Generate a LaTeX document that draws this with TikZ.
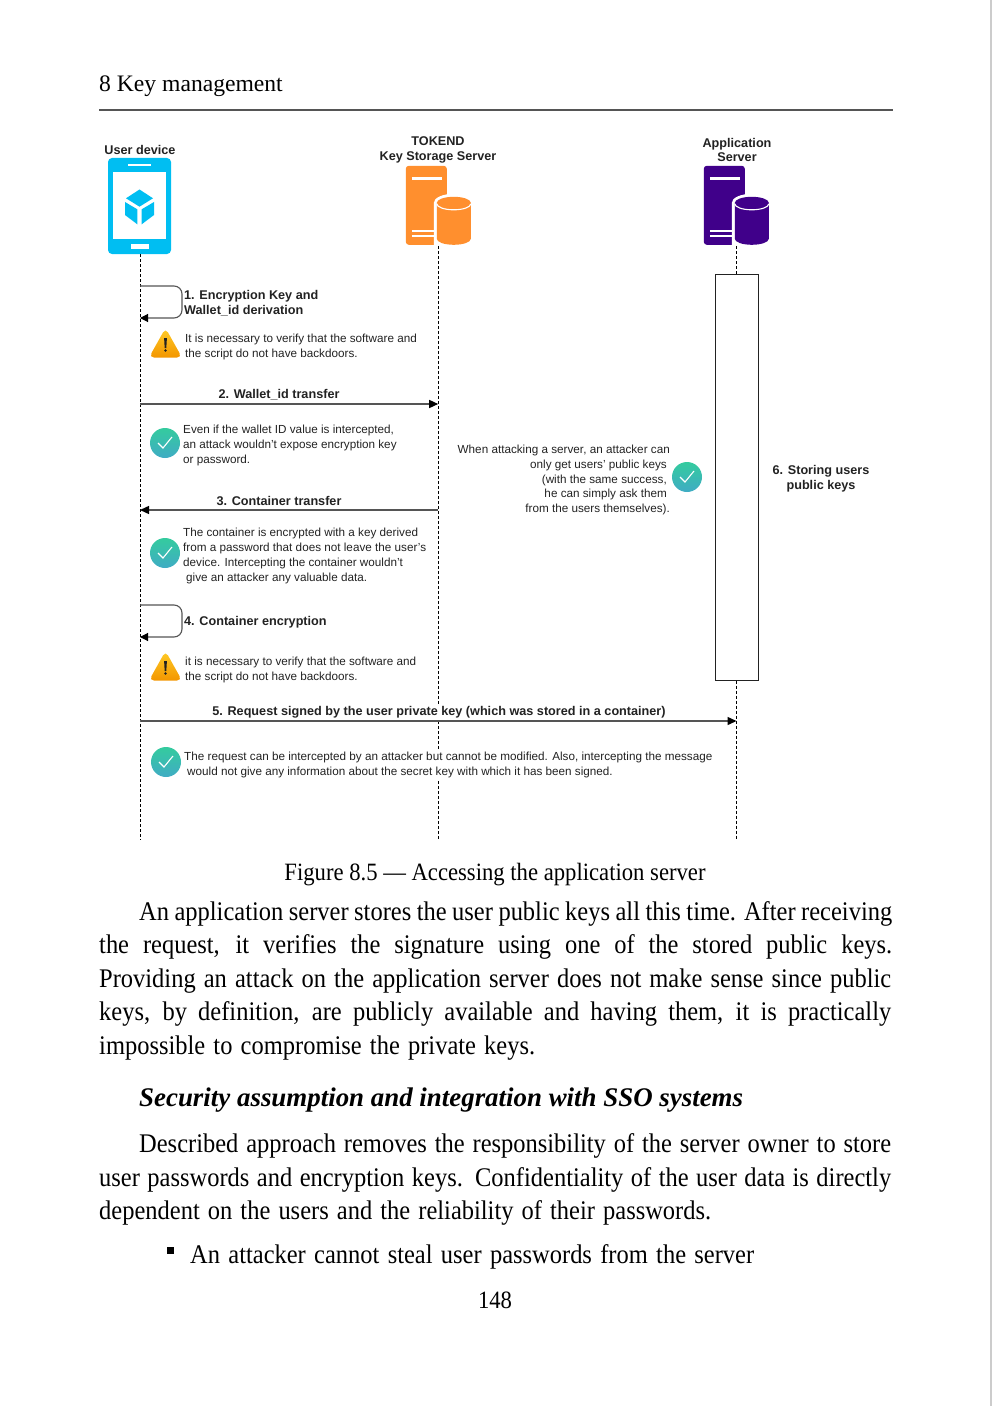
\documentclass[tikz,border=0pt]{standalone}
\usepackage{fontspec}
\setmainfont{Liberation Serif}
\setsansfont{Liberation Sans}
\newfontfamily\bookfont[FakeStretch=0.91,Ligatures=TeX]{Liberation Serif}
\newfontfamily\bookheadfont[FakeStretch=1.0,Ligatures=TeX]{Liberation Serif}
\usepackage{xcolor}
\definecolor{kmblue}{RGB}{0,190,242}
\definecolor{kmorange}{RGB}{255,143,46}
\definecolor{kmpurple}{RGB}{64,0,138}
\definecolor{kmink}{RGB}{34,34,34}
\definecolor{kmgrey}{RGB}{85,85,85}
\definecolor{kmtealtop}{RGB}{52,203,158}
\definecolor{kmtealbot}{RGB}{64,172,196}
\definecolor{kmwarntop}{RGB}{255,204,40}
\definecolor{kmwarnbot}{RGB}{243,150,0}
\usetikzlibrary{arrows.meta,positioning,calc}
\tikzset{
  headlabel/.style={font=\sffamily\bfseries\fontsize{12.7}{15}\selectfont,text=kmink,align=center,inner sep=0pt},
  msglabel/.style={font=\sffamily\bfseries\fontsize{12.7}{15}\selectfont,text=kmink,align=left,inner sep=0pt},
  notelabel/.style={font=\sffamily\fontsize{11.75}{15}\selectfont,text=kmink,align=left,inner sep=0pt},
  lifeline/.style={black,line width=0.8bp,dash pattern=on 3bp off 2bp},
  msgline/.style={kmgrey,line width=1.4bp,-{Triangle[length=9bp,width=8bp,color=black]}},
  selfline/.style={kmgrey,line width=1.1bp,rounded corners=8bp,-{Triangle[length=8bp,width=8bp,color=black]}},
  okmark/.style={circle,minimum size=30bp,inner sep=0pt,top color=kmtealtop,bottom color=kmtealbot,
    path picture={\draw[white,line width=1.1bp]
      ([xshift=-7bp,yshift=0bp]path picture bounding box.center) --
      ([xshift=-2bp,yshift=-5bp]path picture bounding box.center) --
      ([xshift=7bp,yshift=6bp]path picture bounding box.center);}},
  bookline/.style={font=\bookfont\fontsize{27}{30}\selectfont,text=black,anchor=base west,inner sep=0pt},
  pics/warnpic/.style={code={
    \shade[top color=kmwarntop,bottom color=kmwarnbot,rounded corners=5bp]
      (0,-16) -- (16.5,13.5) -- (-16.5,13.5) -- cycle;
    \fill[kmink] (-1.4,-6) -- (1.4,-6) -- (0.8,4) -- (-0.8,4) -- cycle;
    \fill[kmink] (0,6.5) circle (1.3);
  }},
  pics/serverpic/.style={code={
    \fill[#1,rounded corners=3bp] (0,79) -- (0,0) -- (41,0) -- (41,79) -- cycle;
    \draw[white,line width=3bp] (6,13) -- (36,13);
    \draw[white,line width=2.5bp] (6,65) -- (31,65) (6,70) -- (31,70);
    \fill[white] (28,79) -- (28,37) arc[start angle=180,end angle=0,x radius=20,y radius=-9] -- (68,79) -- cycle;
    \fill[#1] (31,37) -- (65,37) -- (65,73) arc[start angle=0,end angle=-180,x radius=17,y radius=-6] -- (31,37) -- cycle;
    \fill[#1] (48,37) ellipse[x radius=17,y radius=6];
    \draw[white,line width=1.1bp] (31,38) arc[start angle=180,end angle=360,x radius=17,y radius=-6];
  }},
  pics/phonepic/.style={code={
    \fill[white] (-26.5,-34) rectangle (26.5,33);
    \fill[white] (-11.5,-42) rectangle (11.5,-40);
    \fill[white] (-9,38) rectangle (9,43);
    \fill[#1] (0,-16.5) -- (13.5,-7.7) -- (0,0.7) -- (-13.5,-7.7) -- cycle;
    \fill[#1] (-14.5,-4) -- (-2.2,3.3) -- (-2.2,18.3) -- (-14.5,9) -- cycle;
    \fill[#1] (14.5,-4) -- (2.2,3.3) -- (2.2,18.3) -- (14.5,9) -- cycle;
  }}
}
\newcommand{\bookrow}[4]{\node[bookline] (#1) at (#2) {\makebox[#3bp][s]{#4}};}

\begin{document}
\begin{tikzpicture}[x=1bp,y=-1bp]
  \useasboundingbox (0,0) rectangle (992,1406);
  \fill[black!20] (990,0) rectangle (992,1406);
  %% page head
  \node[font=\fontsize{23.7}{30}\selectfont,anchor=base west,inner sep=0pt] (pagehead) at (99,91.5) {8 Key management};
  \draw[kmgrey,line width=1.3bp] (99,110) -- (893,110);
  %% actors
  \node[fill=kmblue,rounded corners=4bp,minimum width=63bp,minimum height=96bp,inner sep=0pt] (userdev) at (139.5,206) {};
  \pic at (userdev.center) {phonepic=kmblue};
  \node[minimum width=65bp,minimum height=80bp,inner sep=0pt] (tokendsrv) at (438.5,206) {};
  \pic at (tokendsrv.north west) {serverpic=kmorange};
  \node[minimum width=65bp,minimum height=80bp,inner sep=0pt] (appsrv) at (736.5,206) {};
  \pic at (appsrv.north west) {serverpic=kmpurple};
  \node[headlabel] (userhead) at (140,149.5) {User device};
  \node[headlabel] (tokendhead) at (438,150) {TOKEND\\Key Storage Server};
  \node[headlabel] (apphead) at (737,150) {Application\\Server};
  %% life lines
  \coordinate (userend) at (140,840);
  \coordinate (tokendend) at (438.2,840);
  \coordinate (append) at (736.5,840);
  \node[draw=kmink,line width=1bp,minimum width=43bp,minimum height=405bp,inner sep=0pt] (storebox) at (736.5,477.5) {};
  \draw[lifeline] (140,254) -- (userend);
  \draw[lifeline] (438.2,246) -- (tokendend);
  \draw[lifeline] (736.5,246) -- (storebox.north);
  \draw[lifeline] (storebox.south) -- (append);
  %% step 1
  \coordinate (selfaout) at (140,286);
  \coordinate (selfain) at (140,318);
  \draw[selfline] (selfaout) -- (182,286) -- (182,318) -- (selfain);
  \node[msglabel,anchor=west] (stepa) at (184,303) {1. Encryption Key and\\Wallet\_id derivation};
  \pic at (165.5,344) {warnpic};
  \node[notelabel,anchor=west] (notea) at (185,347) {It is necessary to verify that the software and\\the script do not have backdoors.};
  %% step 2
  \coordinate (userb) at (140,404);
  \coordinate (tokendb) at (438.2,404);
  \draw[msgline] (userb) -- (tokendb);
  \node[msglabel] (stepb) at (279,395) {2. Wallet\_id transfer};
  \node[okmark] (okb) at (165,443) {};
  \node[notelabel,anchor=west] (noteb) at (183,445.5) {Even if the wallet ID value is intercepted,\\an attack wouldn't expose encryption key\\or password.};
  %% step 3
  \coordinate (tokendc) at (438.2,510);
  \coordinate (userc) at (140,510);
  \draw[msgline] (tokendc) -- (userc);
  \node[msglabel] (stepc) at (279,500.5) {3. Container transfer};
  \node[okmark] (okc) at (165,553) {};
  \node[notelabel,anchor=west] (notec) at (183,556) {The container is encrypted with a key derived\\from a password that does not leave the user's\\device. Intercepting the container wouldn't\\\hspace*{3bp}give an attacker any valuable data.};
  %% step 4
  \coordinate (selfdout) at (140,605);
  \coordinate (selfdin) at (140,637);
  \draw[selfline] (selfdout) -- (182,605) -- (182,637) -- (selfdin);
  \node[msglabel,anchor=west] (stepd) at (184,622.5) {4. Container encryption};
  \pic at (165.5,667) {warnpic};
  \node[notelabel,anchor=west] (noted) at (185,670) {it is necessary to verify that the software and\\the script do not have backdoors.};
  %% step 5
  \coordinate (usere) at (140,721);
  \coordinate (appe) at (736.5,721);
  \node[msglabel,fill=white,inner ysep=3bp] (stepe) at (439,712.5) {5. Request signed by the user private key (which was stored in a container)};
  \draw[msgline] (usere) -- (appe);
  \node[okmark] (oke) at (166,762) {};
  \node[notelabel,anchor=west,fill=white,inner ysep=2bp] (notee) at (184,765) {The request can be intercepted by an attacker but cannot be modified. Also, intercepting the message\\\hspace*{3bp}would not give any information about the secret key with which it has been signed.};
  %% step 6 and server side note
  \node[headlabel] (stepf) at (821,479) {6. Storing users\\public keys};
  \node[okmark] (okf) at (687,477) {};
  \node[notelabel,align=right,anchor=east] (notef) at (670,480) {When attacking a server, an attacker can\\only get users' public keys\hspace*{3bp}\mbox{}\\(with the same success,\hspace*{3bp}\mbox{}\\he can simply ask them\hspace*{3bp}\mbox{}\\from the users themselves).};
  %% caption and text
  \node[font=\bookfont\fontsize{25}{30}\selectfont,anchor=base,inner sep=0pt] (caption) at (495,880) {Figure 8.5 — Accessing the application server};
  \bookrow{rowa}{139,920}{753}{An application server stores the user public keys all this time. After receiving}
  \bookrow{rowb}{99,953}{793}{the request, it verifies the signature using one of the stored public keys.}
  \bookrow{rowc}{99,987}{792}{Providing an attack on the application server does not make sense since public}
  \bookrow{rowd}{99,1020}{792}{keys, by definition, are publicly available and having them, it is practically}
  \bookrow{rowe}{99,1054}{436}{impossible to compromise the private keys.}
  \node[bookline,font=\bookheadfont\bfseries\itshape\fontsize{27}{30}\selectfont] (subhead) at (139,1106) {Security assumption and integration with SSO systems};
  \bookrow{rowf}{139,1152}{752}{Described approach removes the responsibility of the server owner to store}
  \bookrow{rowg}{99,1186}{792}{user passwords and encryption keys. Confidentiality of the user data is directly}
  \bookrow{rowh}{99,1219}{612}{dependent on the users and the reliability of their passwords.}
  \node[fill=black,minimum size=7bp,inner sep=0pt] (bullet) at (170.5,1250) {};
  \bookrow{rowi}{190,1263}{564}{An attacker cannot steal user passwords from the server}
  \node[font=\bookfont\fontsize{25}{30}\selectfont,anchor=base,inner sep=0pt] (pagenum) at (495,1308) {148};
\end{tikzpicture}
\end{document}
